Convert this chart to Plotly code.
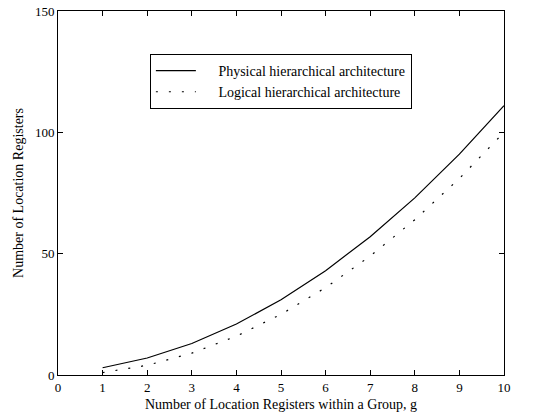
import plotly.graph_objects as go

g = [1, 2, 3, 4, 5, 6, 7, 8, 9, 10]
physical = [3, 7, 13, 21, 31, 43, 57, 73, 91, 111]
logical = [1, 4, 9, 16, 25, 36, 49, 64, 81, 100]
x_ticks = [0, 1, 2, 3, 4, 5, 6, 7, 8, 9, 10]
y_ticks = [0, 50, 100, 150]
series_names = ["Physical hierarchical architecture", "Logical hierarchical architecture"]

font = "Liberation Serif"
pad = "\u00a0" * 5

fig = go.Figure()
fig.add_trace(go.Scatter(x=g, y=physical, mode="lines",
                         name=pad + series_names[0],
                         line=dict(color="black", width=1.2)))
fig.add_trace(go.Scatter(x=g, y=logical, mode="lines",
                         name=pad + series_names[1],
                         line=dict(color="black", width=1.2, dash="2px,11px")))

axis_common = dict(showgrid=False, zeroline=False, showline=True, linecolor="black",
                   linewidth=1, mirror="ticks", ticks="inside", ticklen=5,
                   tickcolor="black", automargin=False,
                   tickfont=dict(family=font, size=13, color="black"))

fig.update_layout(
    width=545, height=416,
    margin=dict(l=58, r=41, t=11, b=41),
    paper_bgcolor="white", plot_bgcolor="white",
    font=dict(family=font, size=13, color="black"),
    xaxis=dict(range=[0, 10], tickvals=x_ticks, **axis_common,
               title=dict(text="Number of Location Registers within a Group, g",
                          font=dict(family=font, size=14), standoff=5)),
    yaxis=dict(range=[0, 150], tickvals=y_ticks, **axis_common,
               title=dict(text="Number of Location Registers",
                          font=dict(family=font, size=14), standoff=8)),
    showlegend=True,
    legend=dict(x=0.206, y=0.882, xanchor="left", yanchor="top",
                bgcolor="white", bordercolor="black", borderwidth=1,
                font=dict(family=font, size=14), itemwidth=40,
                tracegroupgap=0),
)

fig.write_html("out.html", config={"displayModeBar": False},
               post_script="document.body.style.margin='0';document.body.style.overflow='hidden';")
